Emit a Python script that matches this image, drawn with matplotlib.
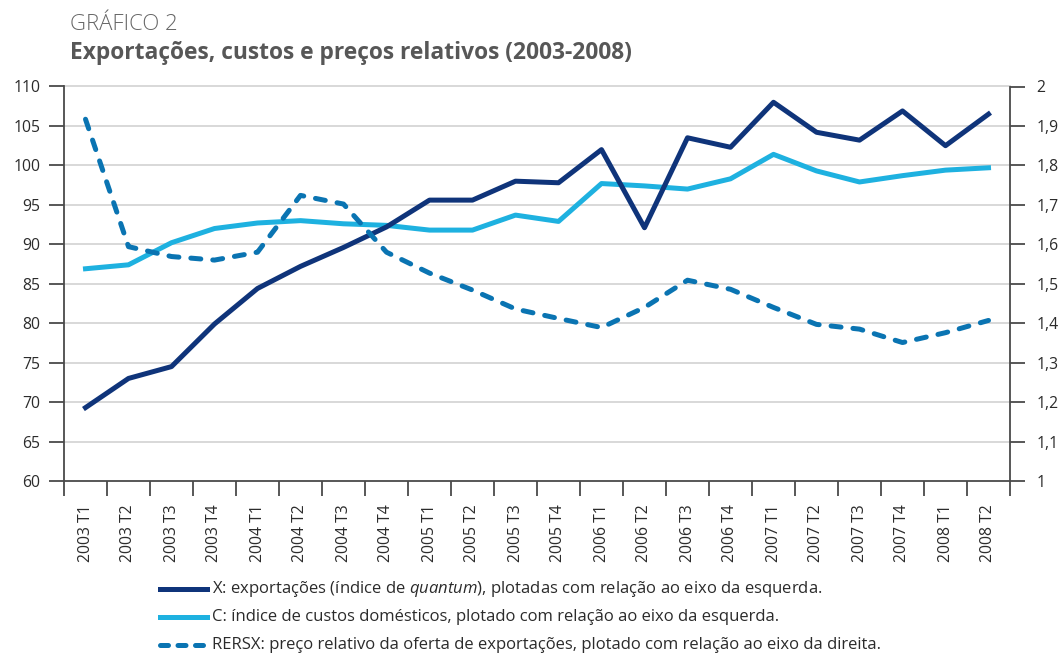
import matplotlib
matplotlib.use("Agg")
import matplotlib.pyplot as plt
import matplotlib.lines as mlines
import numpy as np
from matplotlib import font_manager

plt.rcParams['font.family'] = ['Open Sans', 'DejaVu Sans']
plt.rcParams['mathtext.fontset'] = 'custom'
plt.rcParams['mathtext.rm'] = 'Open Sans'
plt.rcParams['mathtext.it'] = 'Open Sans:italic'

categories = ["2003 T1", "2003 T2", "2003 T3", "2003 T4",
              "2004 T1", "2004 T2", "2004 T3", "2004 T4",
              "2005 T1", "2005 T2", "2005 T3", "2005 T4",
              "2006 T1", "2006 T2", "2006 T3", "2006 T4",
              "2007 T1", "2007 T2", "2007 T3", "2007 T4",
              "2008 T1", "2008 T2"]

x_exports = [69.3, 73.0, 74.5, 79.9, 84.4, 87.2, 89.6, 92.2, 95.6, 95.6, 98.0,
             97.8, 102.0, 92.1, 103.5, 102.3, 108.0, 104.2, 103.2, 106.9, 102.5, 106.5]
c_costs = [86.9, 87.4, 90.2, 92.0, 92.7, 93.0, 92.6, 92.4, 91.8, 91.8, 93.7,
           92.9, 97.7, 97.4, 97.0, 98.3, 101.4, 99.3, 97.9, 98.7, 99.4, 99.7]
rersx = [1.917, 1.594, 1.569, 1.560, 1.580, 1.724, 1.702, 1.580, 1.527, 1.484, 1.436,
         1.412, 1.389, 1.440, 1.509, 1.486, 1.440, 1.397, 1.385, 1.351, 1.376, 1.407]

left_ticks = [60, 65, 70, 75, 80, 85, 90, 95, 100, 105, 110]
right_ticks = [1.0, 1.1, 1.2, 1.3, 1.4, 1.5, 1.6, 1.7, 1.8, 1.9, 2.0]
right_labels = ["1", "1,1", "1,2", "1,3", "1,4", "1,5", "1,6", "1,7", "1,8", "1,9", "2"]

legend_labels = [
    r"X: exportações (índice de $\it{quantum}$), plotadas com relação ao eixo da esquerda.",
    "C: índice de custos domésticos, plotado com relação ao eixo da esquerda.",
    "RERSX: preço relativo da oferta de exportações, plotado com relação ao eixo da direita.",
]

NAVY = "#0f347a"
LIGHT = "#1eb1e0"
DASH = "#0a74b2"
AXC = "#4a4a4a"
GRID = "#d6d6d6"
TXT = "#2b2b2b"

W, H = 1058, 657
fig = plt.figure(figsize=(W / 100, H / 100), dpi=100)
L, R, T, B = 64, 1010, 86.5, 481
ax = fig.add_axes([L / W, 1 - B / H, (R - L) / W, (B - T) / H])
ax2 = ax.twinx()

n = len(categories)
xs = np.arange(n)

ax.set_xlim(-0.5, n - 0.5)
ax.set_ylim(60, 110)
ax2.set_ylim(1, 2)

for v in left_ticks[1:]:
    ax.axhline(v, color=GRID, lw=1.3, zorder=0, clip_on=False)

ax.plot(xs, c_costs, color=LIGHT, lw=3.6, zorder=3)
ax.plot(xs, x_exports, color=NAVY, lw=3.6, zorder=4)
ax2.plot(xs, rersx, color=DASH, lw=3.6, dashes=(2.0, 2.4), dash_capstyle='round', zorder=3)

ax.set_yticks(left_ticks)
ax.set_yticklabels([str(v) for v in left_ticks])
ax2.set_yticks(right_ticks)
ax2.set_yticklabels(right_labels)

ax.set_xticks(xs)
ax.set_xticklabels(categories, rotation=90, va='top')
ax.set_xticks(np.arange(n + 1) - 0.5, minor=True)
ax.tick_params(axis='x', which='major', length=0, pad=17, labelsize=11.3, labelcolor=TXT)
ax.tick_params(axis='x', which='minor', length=10.5, width=1.3, color=AXC, direction='out')
ax.tick_params(axis='y', length=11, width=1.3, color=AXC, labelsize=11.3, labelcolor=TXT, pad=6)
ax2.tick_params(axis='y', length=11, width=1.3, color=AXC, labelsize=11.3, labelcolor=TXT, pad=8)

for a in (ax, ax2):
    a.spines['top'].set_visible(False)
    for s in ('left', 'right', 'bottom'):
        a.spines[s].set_color(AXC)
        a.spines[s].set_linewidth(1.3)
ax.spines['right'].set_visible(False)
ax2.spines['left'].set_visible(False)
ax2.spines['bottom'].set_visible(False)

def pick(fams):
    avail = {f.name for f in font_manager.fontManager.ttflist}
    out = [f for f in fams if f in avail]
    return out + ['DejaVu Sans']

t1 = fig.text(70 / W, 1 - 24.5 / H, "GRÁFICO 2", fontsize=15, color="#666666",
              va='center', ha='left', fontweight='light',
              family=pick(['Liberation Sans Narrow', 'Open Sans']))
t2 = fig.text(70 / W, 1 - 53 / H, "Exportações, custos e preços relativos (2003-2008)",
              fontsize=19, color="#575757", va='center', ha='left', fontweight='bold',
              family=pick(['Liberation Sans Narrow', 'Open Sans']))

rows_y = [589, 617, 645]
styles = [dict(color=NAVY, lw=3.6), dict(color=LIGHT, lw=3.6),
          dict(color=DASH, lw=3.6, dashes=(1.6, 1.9), dash_capstyle='round')]
for yy, lab, st in zip(rows_y, legend_labels, styles):
    yf = 1 - yy / H
    line = mlines.Line2D([160 / W, 207 / W], [yf, yf], transform=fig.transFigure, **st)
    fig.add_artist(line)
    fig.text(212 / W, yf, lab, fontsize=12, color=TXT, va='center', ha='left')

fig.canvas.draw()
r = fig.canvas.get_renderer()
for t, target in ((t1, 108), (t2, 562)):
    w = t.get_window_extent(r).width
    t.set_fontsize(t.get_fontsize() * target / w)

fig.savefig("out.png", dpi=100)
